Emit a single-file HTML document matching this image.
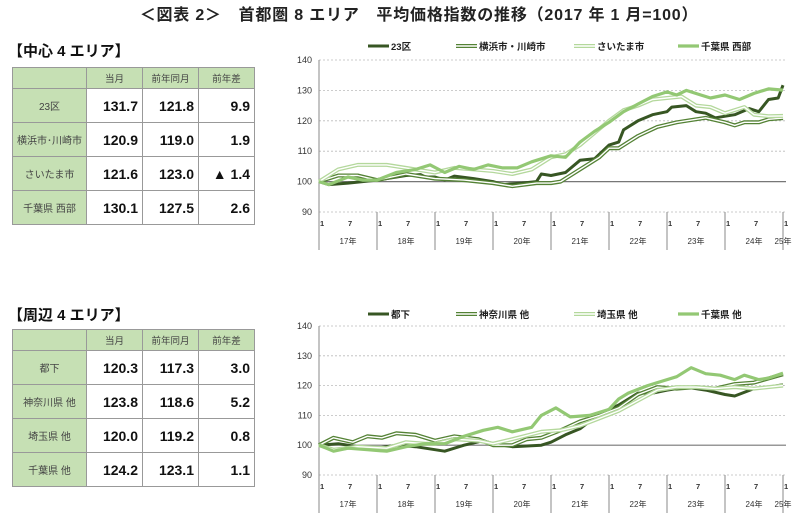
<!DOCTYPE html>
<html><head><meta charset="utf-8">
<style>
body{margin:0;width:800px;height:518px;background:#fff;font-family:"Liberation Sans","Noto Sans CJK JP",sans-serif;overflow:hidden;position:relative}
.ttl{position:absolute;top:1px;left:0;width:838px;text-align:center;font-size:16px;font-weight:bold;color:#222;letter-spacing:0.8px}
.sec{position:absolute;left:8px;font-size:15px;font-weight:bold;color:#111}
table{position:absolute;left:12px;border-collapse:collapse;border:1.5px solid #444;table-layout:fixed;width:238px}
td{border:1px solid #999;padding:0 4px;text-align:right;font-weight:bold;font-size:14px;color:#111;width:47px}
td.l{background:#c6e0b4;text-align:center;font-weight:normal;font-size:10px;color:#444;width:73px;padding:0}
tr.h td{background:#c6e0b4;text-align:center;font-weight:normal;font-size:9.5px;color:#444;height:20px}
tr.r td{height:33px}
svg{position:absolute;left:0;top:0}
</style></head><body>
<div class="ttl">＜図表 2＞　首都圏 8 エリア　平均価格指数の推移（2017 年 1 月=100）</div>
<div class="sec" style="top:40px">【中心 4 エリア】</div>
<table style="top:67px">
<tr class="h"><td class="l"></td><td>当月</td><td>前年同月</td><td>前年差</td></tr>
<tr class="r"><td class="l">23区</td><td>131.7</td><td>121.8</td><td>9.9</td></tr>
<tr class="r"><td class="l">横浜市･川崎市</td><td>120.9</td><td>119.0</td><td>1.9</td></tr>
<tr class="r"><td class="l">さいたま市</td><td>121.6</td><td>123.0</td><td>▲ 1.4</td></tr>
<tr class="r"><td class="l">千葉県 西部</td><td>130.1</td><td>127.5</td><td>2.6</td></tr>
</table>
<div class="sec" style="top:304px">【周辺 4 エリア】</div>
<table style="top:329px">
<tr class="h"><td class="l"></td><td>当月</td><td>前年同月</td><td>前年差</td></tr>
<tr class="r"><td class="l">都下</td><td>120.3</td><td>117.3</td><td>3.0</td></tr>
<tr class="r"><td class="l">神奈川県 他</td><td>123.8</td><td>118.6</td><td>5.2</td></tr>
<tr class="r"><td class="l">埼玉県 他</td><td>120.0</td><td>119.2</td><td>0.8</td></tr>
<tr class="r"><td class="l">千葉県 他</td><td>124.2</td><td>123.1</td><td>1.1</td></tr>
</table>
<svg id="s" width="800" height="518" xmlns="http://www.w3.org/2000/svg"></svg>
<script>
const S=document.getElementById('s');let h='';
const C1='#375623',C2='#548235',C3='#b4d89c',C4='#93c874';
function chart(y140,y90,ly,names,data){
  const L=319,R=786,k=(y90-y140)/50;
  const Y=v=>y140+(140-v)*k, X=m=>L+m*58/12;
  for(let v=90;v<=140;v+=10){const y=Y(v);
    h+=`<line x1="${L}" x2="${R}" y1="${y}" y2="${y}" stroke="${v==100?'#777':'#bbb'}" stroke-width="${v==100?1.2:0.8}" ${v==100?'':'stroke-dasharray="2,2"'}/>`;
    h+=`<text x="${L-7}" y="${y+3}" font-size="9" text-anchor="end" fill="#333">${v}</text>`;}
  h+=`<line x1="${L}" x2="${L}" y1="${y140}" y2="${y90+38}" stroke="#888" stroke-width="1"/>`;
  for(let yr=0;yr<=8;yr++){const x=X(yr*12);
    h+=`<line x1="${x}" x2="${x}" y1="${y90}" y2="${y90+38}" stroke="#888" stroke-width="1"/>`;
    h+=`<text x="${x+1}" y="${y90+14}" font-size="7.5" font-weight="bold" fill="#333">1</text>`;
    if(yr<8){h+=`<text x="${x+29}" y="${y90+14}" font-size="7.5" font-weight="bold" fill="#333">7</text>`;
    h+=`<text x="${x+29}" y="${y90+32}" font-size="8" text-anchor="middle" fill="#333">${17+yr}年</text>`;}
    else h+=`<text x="${x}" y="${y90+32}" font-size="8" text-anchor="middle" fill="#333">25年</text>`;}
  const st=[[C1,3,null],[C2,4,'#fff'],[C3,4,'#fff'],[C4,3.2,null]];
  const lx=[368,456,574,678];
  data.forEach((d,i)=>{const p=[];for(let j=0;j<d.length;j+=2)p.push(X(d[j]).toFixed(1)+','+Y(d[j+1]).toFixed(1));
    const pts=p.join(' ');const[c,w,inn]=st[i];
    h+=`<polyline points="${pts}" fill="none" stroke="${c}" stroke-width="${w}" stroke-linejoin="round"/>`;
    if(inn)h+=`<polyline points="${pts}" fill="none" stroke="${inn}" stroke-width="1.4" stroke-linejoin="round"/>`;
    h+=`<line x1="${lx[i]}" x2="${lx[i]+21}" y1="${ly}" y2="${ly}" stroke="${c}" stroke-width="${w}"/>`;
    if(inn)h+=`<line x1="${lx[i]}" x2="${lx[i]+21}" y1="${ly}" y2="${ly}" stroke="${inn}" stroke-width="1.4"/>`;
    h+=`<text x="${lx[i]+23}" y="${ly+4}" font-size="9.5" font-weight="bold" fill="#222">${names[i]}</text>`;});
}
chart(60,212,46,['23区','横浜市・川崎市','さいたま市','千葉県 西部'],[
[0,100,2,99,6,99.5,12,100.5,18,102,21,102.3,22,101.5,24,101.5,26,100.5,28,101.8,32,101,36,100,38,99,42,99.5,45,100,46,102.5,48,102,51,103,54,107,57,107.5,60,112,62,113,63,117,66,120,69,122,72,123,73,124.5,76,125,78,123,80,122.5,82,121,86,122,89,124,91,123,93,127,95,127.5,96,131.7],
[0,100,4,102,8,102,12,100.5,18,102.5,24,101,30,100.5,36,99.5,40,98.5,45,99.5,48,99.5,50,100,54,104,58,108,60,111,62,111,64,113,66,115,70,118,74,119.5,76,120,78,120.5,80,121,84,119.5,86,118.5,88,119.5,91,119.5,93,120.5,96,120.9],
[0,100,4,104,8,105.5,14,105.5,18,104.5,24,103,28,104.5,32,104,36,103.5,40,102.5,44,104,48,108,51,109,54,112,57,116,60,120,63,123.5,66,125,69,127,72,127.5,75,128,78,125,81,124.5,84,122.5,88,124.5,90,122,93,121.5,96,121.6],
[0,100,2,99,6,101.5,9,100.5,12,100.5,16,103,20,104,23,105.5,26,103,29,105,32,104,35,105.5,38,104.5,41,104.5,44,106.5,48,108.5,51,108,54,113,57,116.5,60,119.5,63,123,66,125.5,69,128,72,129.5,74,128.5,76,130,79,128.5,81,127.5,84,128.5,87,127,90,129,93,130.5,96,130.1]]);
chart(326,475,314,['都下','神奈川県 他','埼玉県 他','千葉県 他'],[
[0,100,4,100.5,8,99.5,12,99,16,100,20,99.5,24,98.5,26,98,30,100,34,101.5,36,100.5,40,99.5,46,100,48,101,51,103.5,54,105.5,58,110.5,62,113.5,66,117.5,69,117.5,72,118.5,76,119.5,80,118.5,84,117,86,116.5,90,119,93,119.5,96,120.3],
[0,100,3,102.5,7,101,10,103,13,102.5,16,104,20,103.5,24,101.5,28,103,33,102,36,100,40,100,43,102,46,102.5,50,105,54,108,58,110,62,112.5,66,117,70,119.5,74,119,78,119.5,82,119,86,120.5,90,121,96,123.8],
[0,100,3,98.5,8,99.5,14,99,18,101,22,100.5,24,100.5,28,102,33,101.5,36,100.5,40,102,46,104.5,50,105,54,106.5,58,109,62,111.5,66,115,70,118.5,74,119.5,78,119.5,82,119,86,119.5,90,119,96,120],
[0,100,3,98,6,99,10,98.5,14,98,18,99.5,22,100.5,26,100.5,30,103,34,105,37,106,40,104.5,44,106,46,110,49,112.5,52,109.5,56,110,60,112,62,115.5,64,117.5,68,120,71,121.5,74,123,77,126,80,124,83,123.5,86,122,88,123.5,91,122,93,122.5,96,124.2]]);
S.innerHTML=h;
</script>
</body></html>
